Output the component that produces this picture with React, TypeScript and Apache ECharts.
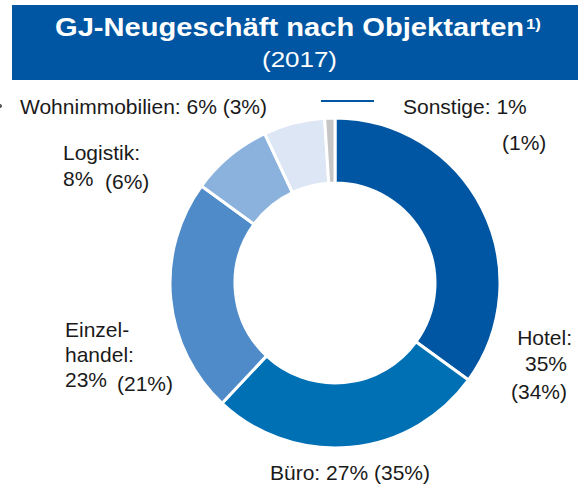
import React, { useEffect, useRef } from "react";
import * as echarts from "echarts";

const categories = ["Hotel", "Büro", "Einzelhandel", "Logistik", "Wohnimmobilien", "Sonstige"];
const values2017 = [35, 27, 23, 8, 6, 1];
const valuesPrev = [34, 35, 21, 6, 3, 1];
const colors = ["#0056A2", "#0070B5", "#4F8BC8", "#8BB2DD", "#DCE6F5", "#C6C6C6"];

const FONT = "'Liberation Sans', Arial, sans-serif";
const TXT = "#1a1a1a";

export default function App() {
  const ref = useRef<HTMLDivElement>(null);
  useEffect(() => {
    if (!ref.current) return;
    const chart = echarts.init(ref.current, undefined, { renderer: "svg" });
    const v = (i: number) => `${values2017[i]}%`;
    const p = (i: number) => `(${valuesPrev[i]}%)`;
    const t = (x: number, y: number, text: string, opts: any = {}) => ({
      type: "text",
      x,
      y,
      scaleX: opts.sx || 1,
      style: {
        text,
        fill: opts.fill || TXT,
        fontFamily: FONT,
        fontSize: opts.size || 21,
        fontWeight: opts.weight || "normal",
        textAlign: opts.align || "left",
        textVerticalAlign: "middle",
      },
    });
    chart.setOption({
      animation: false,
      series: [
        {
          type: "pie",
          center: [335, 283],
          radius: [100, 165],
          startAngle: 90,
          clockwise: true,
          label: { show: false },
          labelLine: { show: false },
          itemStyle: { borderColor: "#ffffff", borderWidth: 3 },
          emphasis: { disabled: true },
          data: categories.map((c, i) => ({
            name: c,
            value: values2017[i],
            itemStyle: { color: colors[i] },
          })),
        },
      ],
      graphic: [
        { type: "rect", shape: { x: 12, y: 5, width: 566, height: 75 }, style: { fill: "#0056A2" } },
        t(55, 27, "GJ-Neugeschäft nach Objektarten", { fill: "#ffffff", weight: "bold", size: 26, sx: 1.12 }),
        t(526, 24, "1)", { fill: "#ffffff", weight: "bold", size: 14, sx: 1.2 }),
        t(299.5, 59, "(2017)", { fill: "#ffffff", size: 22, align: "center", sx: 1.18 }),
        { type: "line", shape: { x1: 321, y1: 101, x2: 374, y2: 101 }, style: { stroke: "#0056A2", lineWidth: 2 } },
        { type: "circle", shape: { cx: 0, cy: 106, r: 2 }, style: { fill: "#555" } },
        t(20, 106, `${categories[4]}: ${v(4)} ${p(4)}`),
        t(403, 106, `${categories[5]}: ${v(5)}`),
        t(502, 142, p(5)),
        t(63, 152, `${categories[3]}:`),
        t(63, 178, v(3)),
        t(105, 181, p(3)),
        t(65, 329, "Einzel-"),
        t(65, 354, "handel:"),
        t(65, 379, v(2)),
        t(117, 383, p(2)),
        t(572, 337, `${categories[0]}:`, { align: "right" }),
        t(567, 363, v(0), { align: "right" }),
        t(567, 391, p(0), { align: "right" }),
        t(270, 472, `${categories[1]}: ${v(1)}`),
        t(374, 472, p(1)),
      ],
    });
    return () => chart.dispose();
  }, []);
  return <div ref={ref} style={{ width: 578, height: 504, position: "absolute", left: 0, top: 0 }} />;
}
